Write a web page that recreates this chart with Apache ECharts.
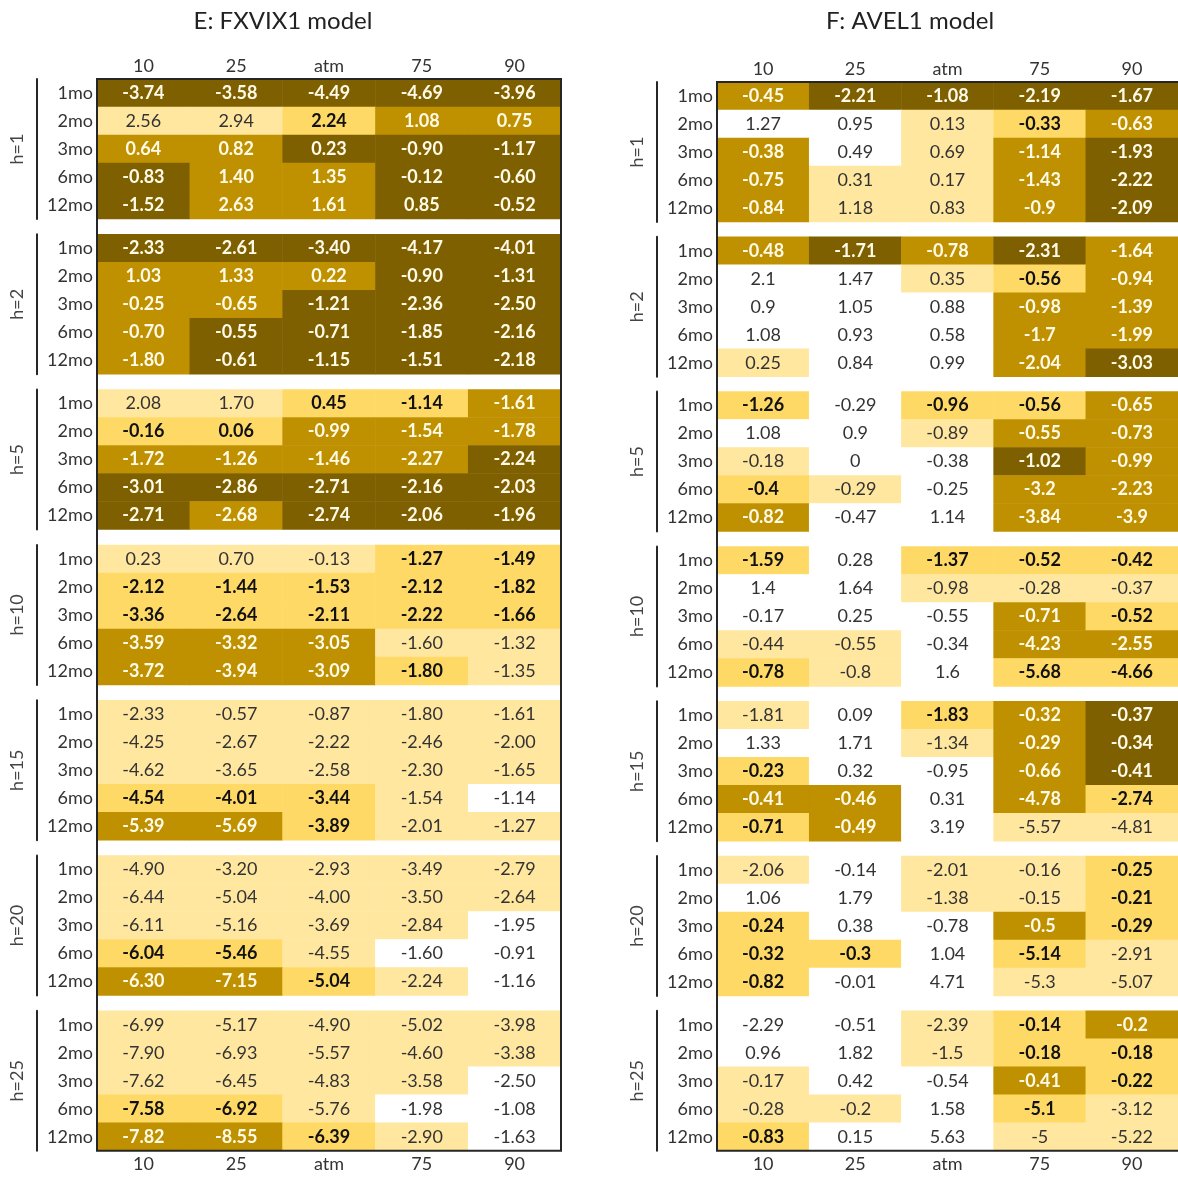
<!DOCTYPE html>
<html>
<head>
<meta charset="utf-8">
<title>FXVIX1 vs AVEL1</title>
<script src="https://cdn.jsdelivr.net/npm/echarts@6/dist/echarts.min.js"></script>
<style>
  html, body { margin: 0; padding: 0; background: #fff; }
  #chart { width: 1178px; height: 1177px; }
</style>
</head>
<body>
<div id="chart"></div>
<script>
// Row / column / block labels
const horizons = ['h=1', 'h=2', 'h=5', 'h=10', 'h=15', 'h=20', 'h=25'];
const maturities = ['1mo', '2mo', '3mo', '6mo', '12mo'];
const strikes = ['10', '25', 'atm', '75', '90'];

// Shading tier of a cell: 0 none, 1 pale, 2 gold, 3 mustard, 4 dark
// Rows follow maturities, columns follow strikes.

// ---- E: FXVIX1 model ----
const fxvix_h1 = [[-3.74, -3.58, -4.49, -4.69, -3.96], [2.56, 2.94, 2.24, 1.08, 0.75], [0.64, 0.82, 0.23, -0.90, -1.17], [-0.83, 1.40, 1.35, -0.12, -0.60], [-1.52, 2.63, 1.61, 0.85, -0.52]];
const fxvixTier_h1 = [[4, 4, 4, 4, 4], [1, 1, 2, 3, 3], [3, 3, 4, 4, 4], [4, 3, 3, 4, 4], [4, 3, 3, 4, 4]];
const fxvix_h2 = [[-2.33, -2.61, -3.40, -4.17, -4.01], [1.03, 1.33, 0.22, -0.90, -1.31], [-0.25, -0.65, -1.21, -2.36, -2.50], [-0.70, -0.55, -0.71, -1.85, -2.16], [-1.80, -0.61, -1.15, -1.51, -2.18]];
const fxvixTier_h2 = [[4, 4, 4, 4, 4], [3, 3, 3, 4, 4], [3, 3, 4, 4, 4], [3, 4, 4, 4, 4], [3, 4, 4, 4, 4]];
const fxvix_h5 = [[2.08, 1.70, 0.45, -1.14, -1.61], [-0.16, 0.06, -0.99, -1.54, -1.78], [-1.72, -1.26, -1.46, -2.27, -2.24], [-3.01, -2.86, -2.71, -2.16, -2.03], [-2.71, -2.68, -2.74, -2.06, -1.96]];
const fxvixTier_h5 = [[1, 1, 2, 2, 3], [2, 2, 3, 3, 3], [3, 3, 3, 3, 4], [4, 4, 4, 4, 4], [4, 3, 4, 4, 4]];
const fxvix_h10 = [[0.23, 0.70, -0.13, -1.27, -1.49], [-2.12, -1.44, -1.53, -2.12, -1.82], [-3.36, -2.64, -2.11, -2.22, -1.66], [-3.59, -3.32, -3.05, -1.60, -1.32], [-3.72, -3.94, -3.09, -1.80, -1.35]];
const fxvixTier_h10 = [[1, 1, 1, 2, 2], [2, 2, 2, 2, 2], [2, 2, 2, 2, 2], [3, 3, 3, 1, 1], [3, 3, 3, 2, 1]];
const fxvix_h15 = [[-2.33, -0.57, -0.87, -1.80, -1.61], [-4.25, -2.67, -2.22, -2.46, -2.00], [-4.62, -3.65, -2.58, -2.30, -1.65], [-4.54, -4.01, -3.44, -1.54, -1.14], [-5.39, -5.69, -3.89, -2.01, -1.27]];
const fxvixTier_h15 = [[1, 1, 1, 1, 1], [1, 1, 1, 1, 1], [1, 1, 1, 1, 1], [2, 2, 2, 1, 0], [3, 3, 2, 1, 1]];
const fxvix_h20 = [[-4.90, -3.20, -2.93, -3.49, -2.79], [-6.44, -5.04, -4.00, -3.50, -2.64], [-6.11, -5.16, -3.69, -2.84, -1.95], [-6.04, -5.46, -4.55, -1.60, -0.91], [-6.30, -7.15, -5.04, -2.24, -1.16]];
const fxvixTier_h20 = [[1, 1, 1, 1, 1], [1, 1, 1, 1, 1], [1, 1, 1, 1, 0], [2, 2, 1, 0, 0], [3, 3, 2, 1, 0]];
const fxvix_h25 = [[-6.99, -5.17, -4.90, -5.02, -3.98], [-7.90, -6.93, -5.57, -4.60, -3.38], [-7.62, -6.45, -4.83, -3.58, -2.50], [-7.58, -6.92, -5.76, -1.98, -1.08], [-7.82, -8.55, -6.39, -2.90, -1.63]];
const fxvixTier_h25 = [[1, 1, 1, 1, 1], [1, 1, 1, 1, 1], [1, 1, 1, 1, 0], [2, 2, 1, 0, 0], [3, 3, 2, 1, 0]];

// ---- F: AVEL1 model ----
const avel_h1 = [[-0.45, -2.21, -1.08, -2.19, -1.67], [1.27, 0.95, 0.13, -0.33, -0.63], [-0.38, 0.49, 0.69, -1.14, -1.93], [-0.75, 0.31, 0.17, -1.43, -2.22], [-0.84, 1.18, 0.83, -0.9, -2.09]];
const avelTier_h1 = [[3, 4, 4, 4, 4], [0, 0, 1, 2, 3], [3, 0, 1, 3, 4], [3, 1, 1, 3, 4], [3, 1, 1, 3, 4]];
const avel_h2 = [[-0.48, -1.71, -0.78, -2.31, -1.64], [2.1, 1.47, 0.35, -0.56, -0.94], [0.9, 1.05, 0.88, -0.98, -1.39], [1.08, 0.93, 0.58, -1.7, -1.99], [0.25, 0.84, 0.99, -2.04, -3.03]];
const avelTier_h2 = [[3, 4, 3, 4, 3], [0, 0, 1, 2, 3], [0, 0, 0, 3, 3], [0, 0, 0, 3, 3], [1, 0, 0, 3, 4]];
const avel_h5 = [[-1.26, -0.29, -0.96, -0.56, -0.65], [1.08, 0.9, -0.89, -0.55, -0.73], [-0.18, 0, -0.38, -1.02, -0.99], [-0.4, -0.29, -0.25, -3.2, -2.23], [-0.82, -0.47, 1.14, -3.84, -3.9]];
const avelTier_h5 = [[2, 0, 2, 2, 3], [0, 0, 1, 3, 3], [1, 0, 0, 4, 3], [2, 1, 0, 3, 3], [3, 0, 0, 3, 3]];
const avel_h10 = [[-1.59, 0.28, -1.37, -0.52, -0.42], [1.4, 1.64, -0.98, -0.28, -0.37], [-0.17, 0.25, -0.55, -0.71, -0.52], [-0.44, -0.55, -0.34, -4.23, -2.55], [-0.78, -0.8, 1.6, -5.68, -4.66]];
const avelTier_h10 = [[2, 0, 2, 2, 2], [0, 0, 1, 1, 1], [0, 0, 0, 3, 2], [1, 1, 0, 3, 3], [2, 1, 0, 2, 2]];
const avel_h15 = [[-1.81, 0.09, -1.83, -0.32, -0.37], [1.33, 1.71, -1.34, -0.29, -0.34], [-0.23, 0.32, -0.95, -0.66, -0.41], [-0.41, -0.46, 0.31, -4.78, -2.74], [-0.71, -0.49, 3.19, -5.57, -4.81]];
const avelTier_h15 = [[1, 0, 2, 3, 4], [0, 0, 1, 3, 4], [2, 0, 0, 3, 4], [3, 3, 0, 3, 2], [2, 3, 0, 1, 1]];
const avel_h20 = [[-2.06, -0.14, -2.01, -0.16, -0.25], [1.06, 1.79, -1.38, -0.15, -0.21], [-0.24, 0.38, -0.78, -0.5, -0.29], [-0.32, -0.3, 1.04, -5.14, -2.91], [-0.82, -0.01, 4.71, -5.3, -5.07]];
const avelTier_h20 = [[1, 0, 1, 1, 2], [0, 0, 1, 1, 2], [2, 0, 0, 3, 2], [2, 2, 0, 2, 1], [2, 0, 0, 1, 1]];
const avel_h25 = [[-2.29, -0.51, -2.39, -0.14, -0.2], [0.96, 1.82, -1.5, -0.18, -0.18], [-0.17, 0.42, -0.54, -0.41, -0.22], [-0.28, -0.2, 1.58, -5.1, -3.12], [-0.83, 0.15, 5.63, -5, -5.22]];
const avelTier_h25 = [[0, 0, 1, 2, 3], [0, 0, 1, 2, 2], [1, 0, 0, 3, 2], [1, 1, 0, 2, 1], [2, 0, 0, 1, 1]];

// Colour and label style per tier
const tierColors = ['#ffffff', '#ffe7a0', '#ffd966', '#bf9000', '#7f6000'];
const tierText = [
  { color: '#333333', fontWeight: 'normal' },
  { color: '#333333', fontWeight: 'normal' },
  { color: '#111111', fontWeight: 'bold' },
  { color: '#fffbe8', fontWeight: 'bold' },
  { color: '#fffbe8', fontWeight: 'bold' }
];

const FONT = 'Lato, "Liberation Sans", sans-serif';
const TEXT_SIZE = 18;

const panels = [
  {
    title: 'E: FXVIX1 model', titleX: 278,
    left: 97, width: 464, top: 79, rowH: 28, pitch: 155.3,
    values: [fxvix_h1, fxvix_h2, fxvix_h5, fxvix_h10, fxvix_h15, fxvix_h20, fxvix_h25],
    tiers: [fxvixTier_h1, fxvixTier_h2, fxvixTier_h5, fxvixTier_h10, fxvixTier_h15, fxvixTier_h20, fxvixTier_h25],
    fmt: v => v.toFixed(2)
  },
  {
    title: 'F: AVEL1 model', titleX: 905,
    left: 717, width: 465, top: 82, rowH: 28, pitch: 154.8,
    values: [avel_h1, avel_h2, avel_h5, avel_h10, avel_h15, avel_h20, avel_h25],
    tiers: [avelTier_h1, avelTier_h2, avelTier_h5, avelTier_h10, avelTier_h15, avelTier_h20, avelTier_h25],
    fmt: v => String(v)
  }
];

const grid = [], xAxis = [], yAxis = [], series = [], titles = [], graphic = [];

panels.forEach(p => {
  titles.push({
    text: p.title, left: p.titleX, top: 4, textAlign: 'center',
    textStyle: { fontFamily: FONT, fontSize: 24, fontWeight: 'normal', color: '#222' }
  });
  const blockH = p.rowH * maturities.length;
  const last = horizons.length - 1;

  horizons.forEach((h, b) => {
    const gi = grid.length;
    grid.push({ left: p.left, top: p.top + b * p.pitch, width: p.width, height: blockH });

    const showX = b === 0 || b === last;
    xAxis.push({
      type: 'category', gridIndex: gi, data: strikes,
      position: b === 0 ? 'top' : 'bottom',
      axisLine: { show: false }, axisTick: { show: false }, splitLine: { show: false },
      axisLabel: { show: showX, margin: 4, fontFamily: FONT, fontSize: TEXT_SIZE, color: '#333' }
    });

    const yMain = yAxis.length;
    yAxis.push({
      type: 'category', gridIndex: gi, data: maturities, inverse: true,
      axisLine: { show: false }, axisTick: { show: false }, splitLine: { show: false },
      axisLabel: { margin: 4, fontFamily: FONT, fontSize: TEXT_SIZE, color: '#333' }
    });
    // bracket line with the horizon name beside each block
    yAxis.push({
      type: 'category', gridIndex: gi, data: maturities, inverse: true,
      position: 'left', offset: 60,
      axisLine: { show: true, onZero: false, lineStyle: { color: '#262626', width: 2 } },
      axisTick: { show: false }, axisLabel: { show: false }, splitLine: { show: false },
      name: h, nameLocation: 'middle', nameRotate: 90, nameGap: 11,
      nameTextStyle: { fontFamily: FONT, fontSize: TEXT_SIZE, color: '#444' }
    });

    const vals = p.values[b], tiers = p.tiers[b];
    const data = [];
    vals.forEach((row, r) => row.forEach((v, c) => {
      const t = tiers[r][c];
      data.push({ value: [c, r, v, t], label: tierText[t] });
    }));

    series.push({
      type: 'heatmap', xAxisIndex: gi, yAxisIndex: yMain, data,
      itemStyle: { borderWidth: 0 },
      label: {
        show: true, fontFamily: FONT, fontSize: TEXT_SIZE,
        formatter: prm => p.fmt(prm.value[2])
      },
      emphasis: { disabled: true },
      animation: false
    });
  });

  // outer frame of the table
  graphic.push({
    type: 'rect', z: 100, silent: true,
    shape: { x: p.left, y: p.top, width: p.width, height: blockH + last * p.pitch },
    style: { fill: 'none', stroke: '#262626', lineWidth: 2 }
  });
});

const chart = echarts.init(document.getElementById('chart'), null, { renderer: 'canvas' });
chart.setOption({
  backgroundColor: '#ffffff',
  animation: false,
  title: titles,
  grid, xAxis, yAxis, series, graphic,
  visualMap: {
    type: 'piecewise', show: false, dimension: 3,
    pieces: tierColors.map((color, i) => ({ value: i, color }))
  }
});
</script>
</body>
</html>
